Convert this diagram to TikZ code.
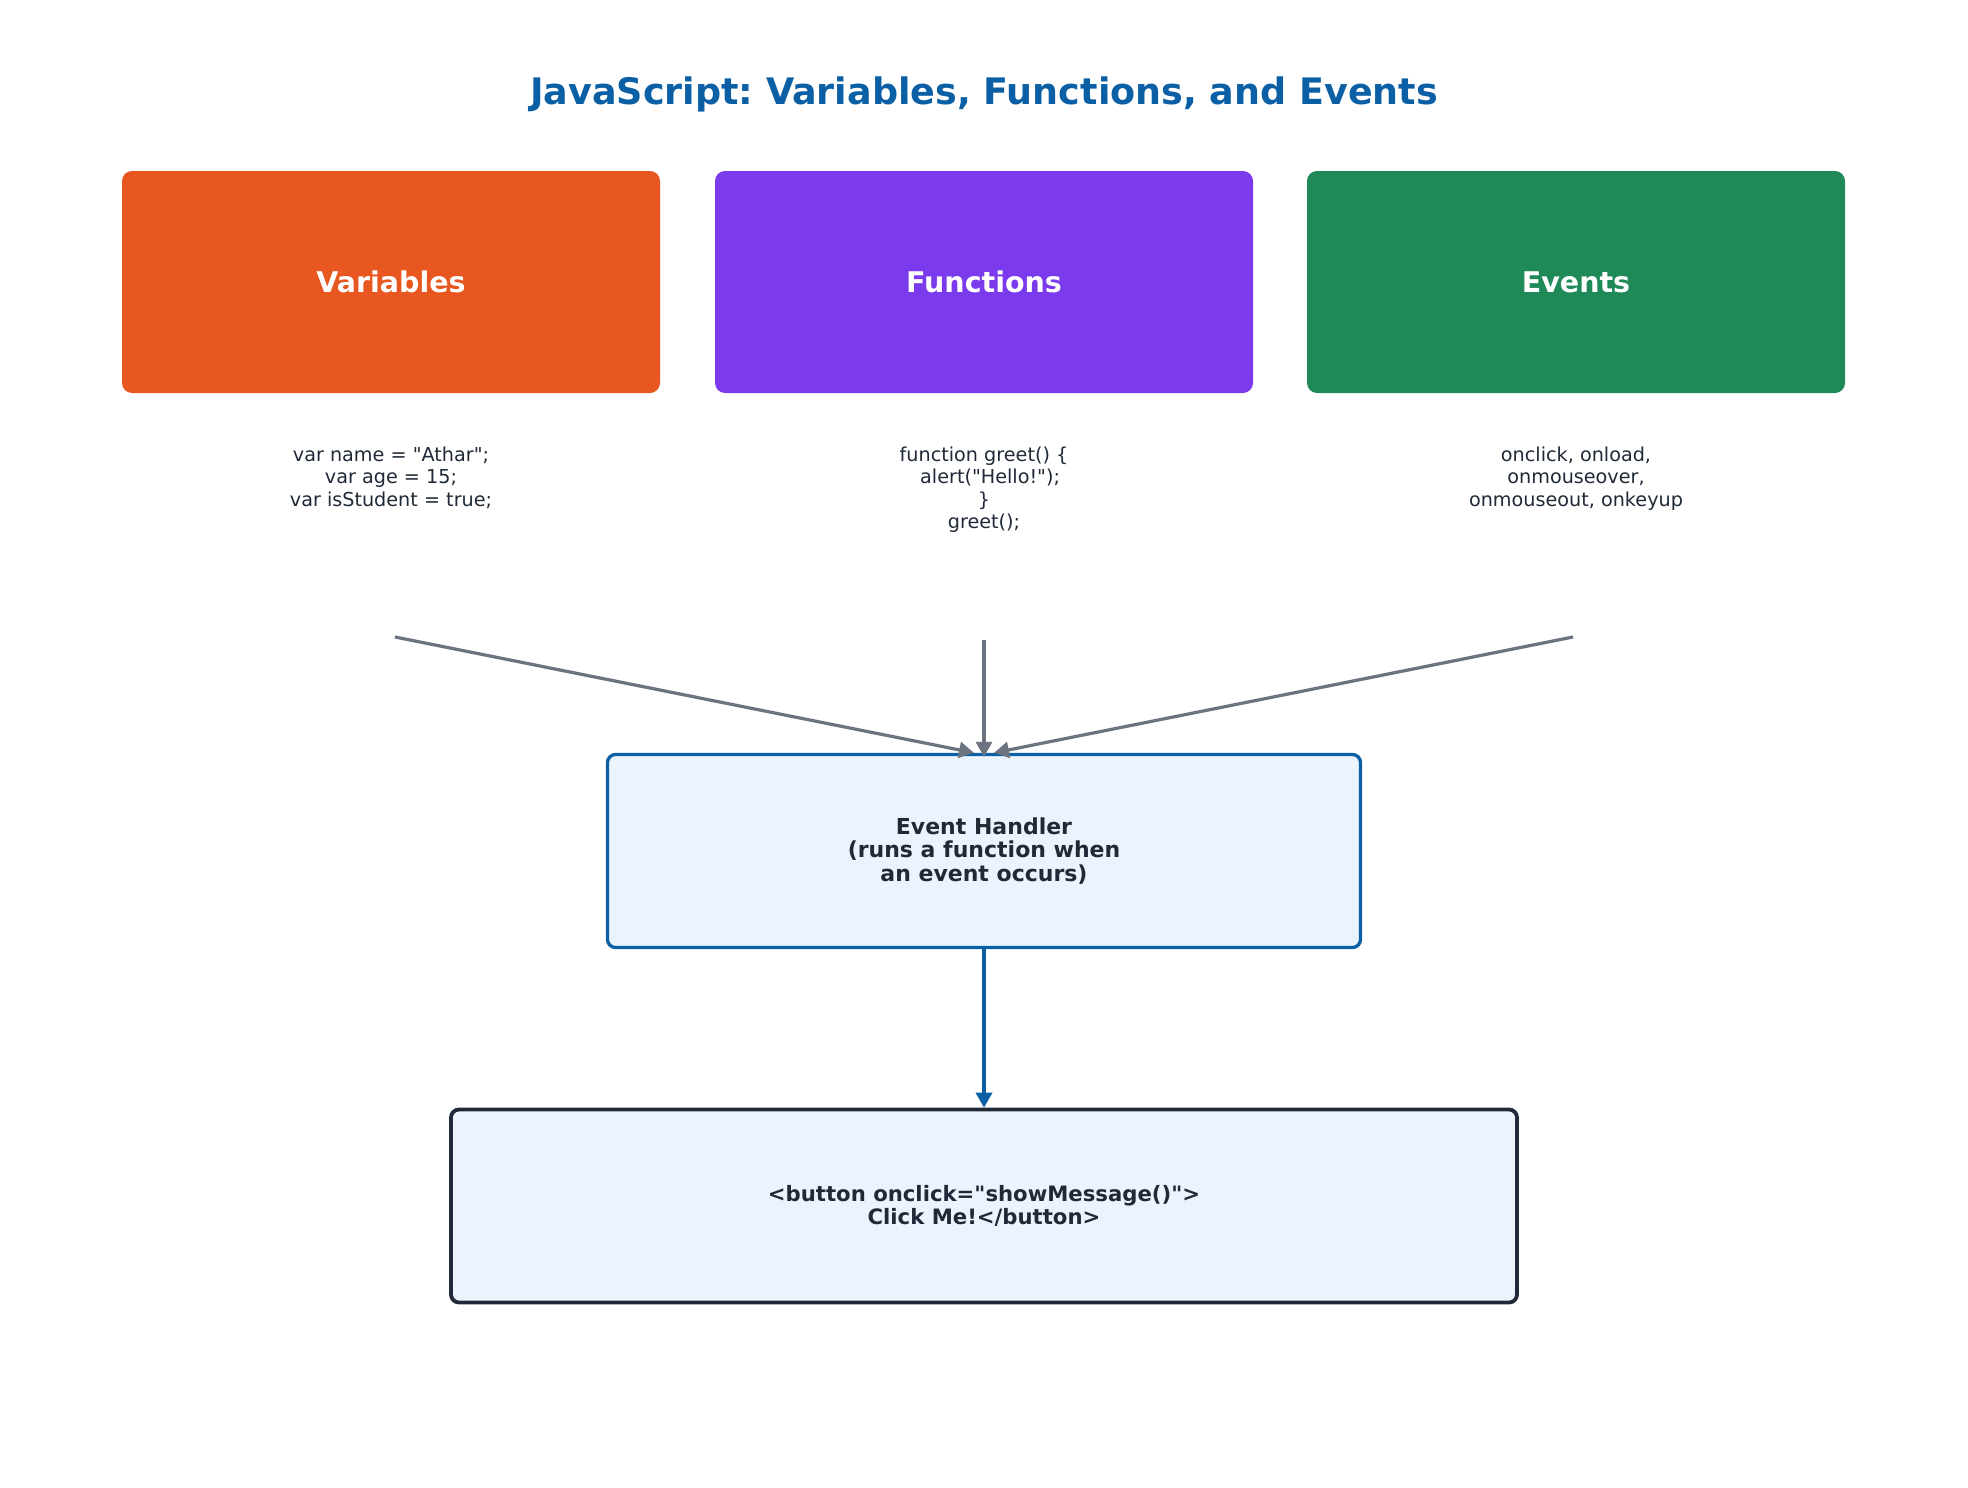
\documentclass[tikz,border=0pt]{standalone}
\usepackage{fontspec}
\setmainfont{DejaVu Sans}[Ligatures=TeXOff]
\usetikzlibrary{arrows.meta}

\definecolor{titleblue}{HTML}{0B5FA5}
\definecolor{varorange}{HTML}{E8571F}
\definecolor{funpurple}{HTML}{7C3AED}
\definecolor{evtgreen}{HTML}{1F8A58}
\definecolor{codegray}{HTML}{1F2937}
\definecolor{arrowgray}{HTML}{6B7280}
\definecolor{paleblue}{HTML}{EBF3FC}

\frenchspacing

\tikzset{
    topic/.style={rectangle, rounded corners=10pt, text=white,
        minimum width=538pt, minimum height=222pt,
        font=\fontsize{28.5}{33}\selectfont\bfseries},
    code/.style={align=center, text=codegray,
        font=\fontsize{19.2}{22.5}\selectfont},
    panel/.style={rectangle, rounded corners=8pt, fill=paleblue,
        align=center, text=codegray,
        font=\fontsize{22}{23.6}\selectfont\bfseries},
    feed/.style={->, draw=arrowgray, line width=3.2pt}
}

\begin{document}
\begin{tikzpicture}[%
    x=1pt, y=-1pt,
    >={Triangle[length=15pt,width=16pt]}
    ]
    \useasboundingbox (0,0) rectangle (1968,1488);

    \node[text=titleblue, font=\fontsize{36.5}{44}\selectfont\bfseries] (title) at (984,94)
        {JavaScript: Variables, Functions, and Events};

    \node[topic, fill=varorange] (vars) at (391,282) {Variables};
    \node[topic, fill=funpurple] (funs) at (984,282) {Functions};
    \node[topic, fill=evtgreen]  (evts) at (1576,282) {Events};

    \node[code, anchor=north] (varcode) at (391,443)
        {var name = "Athar";\\ var age = 15;\\ var isStudent = true;};
    \node[code, anchor=north] (funcode) at (984,443)
        {function greet() \{\\ \ \ alert("Hello!");\\ \}\\ greet();};
    \node[code, anchor=north] (evtcode) at (1576,443)
        {onclick, onload,\\ onmouseover,\\ onmouseout, onkeyup};

    \node[panel, draw=titleblue, line width=3.3pt,
        minimum width=753pt, minimum height=193pt] (handler) at (984,851)
        {Event Handler\\ (runs a function when\\ an event occurs)};
    \node[panel, draw=codegray, line width=3.8pt,
        font=\fontsize{21.2}{23.8}\selectfont\bfseries,
        minimum width=1066pt, minimum height=193pt] (button) at (984,1206)
        {<button onclick="showMessage()">\\ Click Me!</button>};

    \coordinate (v) at (395,637);
    \coordinate (f) at (984,640);
    \coordinate (e) at (1573,637);
    \draw[feed] (v) -- ([xshift=-10pt]handler.north);
    \draw[feed] (f) -- ([yshift=-4pt]handler.north);
    \draw[feed] (e) -- ([xshift=10pt]handler.north);

    \draw[->, draw=titleblue, line width=3.8pt] (handler.south) -- (button.north);
\end{tikzpicture}
\end{document}
